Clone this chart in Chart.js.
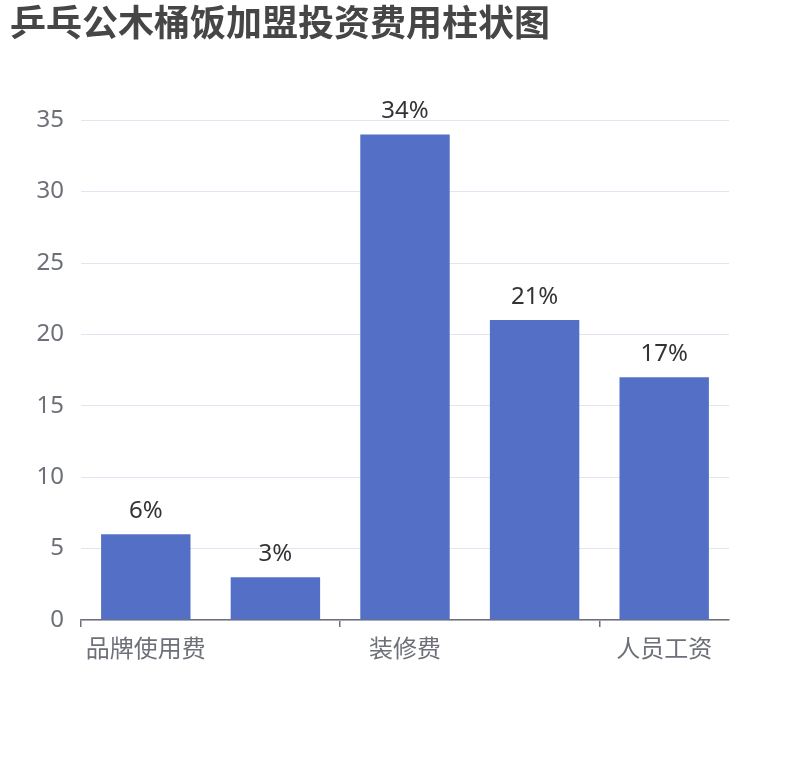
<!DOCTYPE html>
<html>
<head>
<meta charset="utf-8">
<script src="https://cdn.jsdelivr.net/npm/chart.js@4/dist/chart.umd.min.js"></script>
<style>
  html, body { margin: 0; padding: 0; background: #fff; }
  #chart { display: block; }
</style>
</head>
<body>
<canvas id="chart" width="810" height="760"></canvas>
<script>
const titleText = '乒乓公木桶饭加盟投资费用柱状图';
const categories = ['品牌使用费', '保证金', '装修费', '设备费', '人员工资'];
const percentValues = [6, 3, 34, 21, 17];
const yTicks = [0, 5, 10, 15, 20, 25, 30, 35];

const fontFamily = '"Noto Sans", "Noto Sans CJK SC", sans-serif';

// percent labels above each bar
const barLabels = {
    id: 'barLabels',
    afterDatasetsDraw(chart) {
        const ctx = chart.ctx;
        const meta = chart.getDatasetMeta(0);
        ctx.save();
        ctx.font = '24px ' + fontFamily;
        ctx.fillStyle = '#333333';
        ctx.textAlign = 'center';
        ctx.textBaseline = 'middle';
        meta.data.forEach((bar, i) => {
            ctx.fillText(percentValues[i] + '%', bar.x, bar.y - 23);
        });
        ctx.restore();
    }
};

new Chart(document.getElementById('chart').getContext('2d'), {
    type: 'bar',
    data: {
        labels: categories,
        datasets: [{
            data: percentValues,
            backgroundColor: '#5470C6',
            barPercentage: 0.69,
            categoryPercentage: 1
        }]
    },
    options: {
        responsive: false,
        animation: false,
        devicePixelRatio: 1,
        layout: { padding: { left: 10, right: 81, top: 0, bottom: 0 } },
        plugins: {
            legend: { display: false },
            tooltip: { enabled: false },
            title: {
                display: true,
                text: titleText,
                align: 'start',
                color: '#464646',
                font: { family: fontFamily, size: 36, weight: 'bold' },
                padding: { top: 4, bottom: 73 }
            }
        },
        scales: {
            x: {
                offset: true,
                grid: {
                    offset: true,
                    drawOnChartArea: false,
                    tickLength: 7,
                    lineWidth: 1.5,
                    color: (c) => (c.index % 2 === 0 || c.index === categories.length) ? '#6E7079' : 'rgba(0,0,0,0)'
                },
                border: { color: '#6E7079', width: 1.5 },
                ticks: {
                    autoSkip: false,
                    maxRotation: 0,
                    padding: 9,
                    color: '#6E7079',
                    font: { family: fontFamily, size: 24 },
                    callback: (v, i) => (i % 2 === 0 ? categories[i] : '')
                },
                afterFit: (s) => { s.height = 140; }
            },
            y: {
                min: 0,
                max: 35,
                afterBuildTicks: (s) => { s.ticks = yTicks.map(v => ({ value: v })); },
                grid: { color: '#E0E6F1', drawTicks: false },
                border: { display: false },
                ticks: {
                    padding: 17,
                    color: '#6E7079',
                    font: { family: fontFamily, size: 24 }
                },
                afterFit: (s) => { s.width = 71; }
            }
        }
    },
    plugins: [barLabels]
});
</script>
</body>
</html>
